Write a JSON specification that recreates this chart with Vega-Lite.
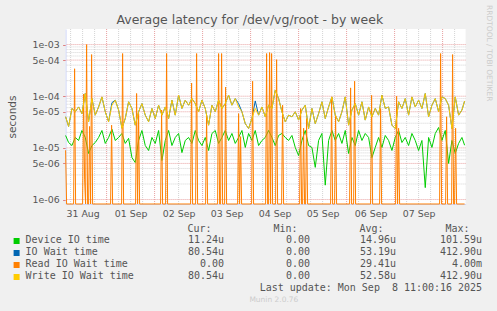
{
  "$schema": "https://vega.github.io/schema/vega-lite/v6.json",
  "background": "#F0F0F0",
  "padding": {"left": 6.6, "top": 5, "right": 10, "bottom": 10},
  "title": {"text": "Average latency for /dev/vg/root - by week", "anchor": "middle", "fontSize": 12.5, "font": "DejaVu Sans", "fontWeight": "normal", "color": "#555555", "offset": -21.6},
  "bounds": "flush",
  "spacing": 30.5,
  "datasets": {
    "vminor": [
      {"t": "2025-08-31T06:00"}, {"t": "2025-08-31T12:00"}, {"t": "2025-08-31T18:00"},
      {"t": "2025-09-01T06:00"}, {"t": "2025-09-01T12:00"}, {"t": "2025-09-01T18:00"},
      {"t": "2025-09-02T06:00"}, {"t": "2025-09-02T12:00"}, {"t": "2025-09-02T18:00"},
      {"t": "2025-09-03T06:00"}, {"t": "2025-09-03T12:00"}, {"t": "2025-09-03T18:00"},
      {"t": "2025-09-04T06:00"}, {"t": "2025-09-04T12:00"}, {"t": "2025-09-04T18:00"},
      {"t": "2025-09-05T06:00"}, {"t": "2025-09-05T12:00"}, {"t": "2025-09-05T18:00"},
      {"t": "2025-09-06T06:00"}, {"t": "2025-09-06T12:00"}, {"t": "2025-09-06T18:00"},
      {"t": "2025-09-07T06:00"}, {"t": "2025-09-07T12:00"}, {"t": "2025-09-07T18:00"},
      {"t": "2025-09-08T06:00"}
    ],
    "vmajor": [
      {"t": "2025-09-01T00:00"}, {"t": "2025-09-02T00:00"}, {"t": "2025-09-03T00:00"}, {"t": "2025-09-04T00:00"},
      {"t": "2025-09-05T00:00"}, {"t": "2025-09-06T00:00"}, {"t": "2025-09-07T00:00"}, {"t": "2025-09-08T00:00"}
    ],
    "hminor": [
      {"v": 0.000002}, {"v": 0.000003}, {"v": 0.000004}, {"v": 0.000006}, {"v": 0.000007}, {"v": 0.000008}, {"v": 0.000009},
      {"v": 0.00002}, {"v": 0.00003}, {"v": 0.00004}, {"v": 0.00006}, {"v": 0.00007}, {"v": 0.00008}, {"v": 0.00009},
      {"v": 0.0002}, {"v": 0.0003}, {"v": 0.0004}, {"v": 0.0006}, {"v": 0.0007}, {"v": 0.0008}, {"v": 0.0009}
    ],
    "hmajor": [
      {"v": 0.000001}, {"v": 0.000005}, {"v": 0.00001}, {"v": 0.00005}, {"v": 0.0001}, {"v": 0.0005}, {"v": 0.001}
    ],
    "main": [
      {"t": "2025-08-31T03:30", "dev": 1.74e-5, "io": 4.0e-5, "wr": 4.0e-5},
      {"t": "2025-08-31T05:00", "dev": 1.27e-5, "io": 2.6e-5, "wr": 2.6e-5},
      {"t": "2025-08-31T06:40", "dev": 1.11e-5, "io": 5.8e-5, "wr": 5.8e-5},
      {"t": "2025-08-31T08:20", "dev": 1.59e-5, "io": 5.0e-5, "wr": 5.0e-5},
      {"t": "2025-08-31T10:00", "dev": 1.39e-5, "io": 6.2e-5, "wr": 6.2e-5},
      {"t": "2025-08-31T11:40", "dev": 2.17e-5, "io": 4.6e-5, "wr": 4.6e-5},
      {"t": "2025-08-31T13:20", "dev": 1.59e-5, "io": 1.13e-4, "wr": 1.13e-4},
      {"t": "2025-08-31T15:00", "dev": 7.8e-6, "io": 3.2e-5, "wr": 3.2e-5},
      {"t": "2025-08-31T16:40", "dev": 1.11e-5, "io": 9.0e-5, "wr": 9.0e-5},
      {"t": "2025-08-31T18:20", "dev": 1.27e-5, "io": 4.3e-5, "wr": 4.3e-5},
      {"t": "2025-08-31T20:00", "dev": 1.59e-5, "io": 6.2e-5, "wr": 6.2e-5},
      {"t": "2025-08-31T21:40", "dev": 2.17e-5, "io": 9.7e-5, "wr": 9.7e-5},
      {"t": "2025-08-31T23:20", "dev": 1.22e-5, "io": 5.0e-5, "wr": 5.0e-5},
      {"t": "2025-09-01T01:00", "dev": 1.59e-5, "io": 3.2e-5, "wr": 3.2e-5},
      {"t": "2025-09-01T02:40", "dev": 2.3e-5, "io": 7.5e-5, "wr": 6.7e-5},
      {"t": "2025-09-01T04:20", "dev": 1.39e-5, "io": 8.4e-5, "wr": 8.4e-5},
      {"t": "2025-09-01T06:00", "dev": 1.59e-5, "io": 5.4e-5, "wr": 5.4e-5},
      {"t": "2025-09-01T07:40", "dev": 1.9e-5, "io": 2.4e-5, "wr": 2.4e-5},
      {"t": "2025-09-01T09:20", "dev": 1.22e-5, "io": 3.7e-5, "wr": 3.7e-5},
      {"t": "2025-09-01T11:00", "dev": 1.53e-5, "io": 7.8e-5, "wr": 7.8e-5},
      {"t": "2025-09-01T12:40", "dev": 6.5e-6, "io": 5.8e-5, "wr": 5.8e-5},
      {"t": "2025-09-01T14:20", "dev": 5.2e-6, "io": 2.75e-5, "wr": 2.75e-5},
      {"t": "2025-09-01T16:00", "dev": 1.39e-5, "io": 5.0e-5, "wr": 5.0e-5},
      {"t": "2025-09-01T17:40", "dev": 2.17e-5, "io": 7.2e-5, "wr": 7.2e-5},
      {"t": "2025-09-01T19:20", "dev": 1.11e-5, "io": 4.3e-5, "wr": 4.3e-5},
      {"t": "2025-09-01T21:00", "dev": 8.9e-6, "io": 3.2e-5, "wr": 3.2e-5},
      {"t": "2025-09-01T22:40", "dev": 1.59e-5, "io": 5.8e-5, "wr": 5.8e-5},
      {"t": "2025-09-02T00:20", "dev": 1.22e-5, "io": 3.7e-5, "wr": 3.7e-5},
      {"t": "2025-09-02T02:00", "dev": 2.17e-5, "io": 6.7e-5, "wr": 6.7e-5},
      {"t": "2025-09-02T03:40", "dev": 5.7e-6, "io": 4.3e-5, "wr": 4.3e-5},
      {"t": "2025-09-02T05:20", "dev": 1.39e-5, "io": 6.2e-5, "wr": 6.2e-5},
      {"t": "2025-09-02T07:00", "dev": 2.17e-5, "io": 3.7e-5, "wr": 3.7e-5},
      {"t": "2025-09-02T08:40", "dev": 1.11e-5, "io": 8.4e-5, "wr": 8.4e-5},
      {"t": "2025-09-02T10:20", "dev": 1.59e-5, "io": 4.3e-5, "wr": 4.3e-5},
      {"t": "2025-09-02T12:00", "dev": 1.9e-5, "io": 1.05e-4, "wr": 1.05e-4},
      {"t": "2025-09-02T13:40", "dev": 8.1e-6, "io": 5.8e-5, "wr": 5.8e-5},
      {"t": "2025-09-02T15:20", "dev": 1.39e-5, "io": 8.4e-5, "wr": 8.4e-5},
      {"t": "2025-09-02T17:00", "dev": 1.59e-5, "io": 6.7e-5, "wr": 6.7e-5},
      {"t": "2025-09-02T18:40", "dev": 1.22e-5, "io": 9.0e-5, "wr": 9.0e-5},
      {"t": "2025-09-02T20:20", "dev": 2.17e-5, "io": 7.2e-5, "wr": 7.2e-5},
      {"t": "2025-09-02T22:00", "dev": 1.39e-5, "io": 5.0e-5, "wr": 5.0e-5},
      {"t": "2025-09-02T23:40", "dev": 1.11e-5, "io": 8.4e-5, "wr": 8.4e-5},
      {"t": "2025-09-03T01:20", "dev": 1.59e-5, "io": 5.8e-5, "wr": 5.8e-5},
      {"t": "2025-09-03T03:00", "dev": 8.9e-6, "io": 2.75e-5, "wr": 2.75e-5},
      {"t": "2025-09-03T04:40", "dev": 1.9e-5, "io": 6.7e-5, "wr": 6.7e-5},
      {"t": "2025-09-03T06:20", "dev": 2.17e-5, "io": 5.0e-5, "wr": 5.0e-5},
      {"t": "2025-09-03T08:00", "dev": 1.22e-5, "io": 8.4e-5, "wr": 8.4e-5},
      {"t": "2025-09-03T09:40", "dev": 1.59e-5, "io": 5.8e-5, "wr": 5.8e-5},
      {"t": "2025-09-03T11:20", "dev": 2.17e-5, "io": 7.2e-5, "wr": 7.2e-5},
      {"t": "2025-09-03T13:00", "dev": 1.39e-5, "io": 1.05e-4, "wr": 1.05e-4},
      {"t": "2025-09-03T14:40", "dev": 1.9e-5, "io": 6.7e-5, "wr": 6.7e-5},
      {"t": "2025-09-03T16:20", "dev": 1.22e-5, "io": 9.0e-5, "wr": 9.0e-5},
      {"t": "2025-09-03T18:00", "dev": 1.59e-5, "io": 7.2e-5, "wr": 6.2e-5},
      {"t": "2025-09-03T19:40", "dev": 2.17e-5, "io": 5.0e-5, "wr": 5.0e-5},
      {"t": "2025-09-03T21:20", "dev": 1.02e-5, "io": 2.95e-5, "wr": 2.95e-5},
      {"t": "2025-09-03T23:00", "dev": 1.9e-5, "io": 2.37e-5, "wr": 2.37e-5},
      {"t": "2025-09-04T00:40", "dev": 1.39e-5, "io": 3.7e-5, "wr": 3.7e-5},
      {"t": "2025-09-04T02:20", "dev": 2.17e-5, "io": 8.1e-5, "wr": 5.8e-5},
      {"t": "2025-09-04T04:00", "dev": 1.11e-5, "io": 4.3e-5, "wr": 4.3e-5},
      {"t": "2025-09-04T05:40", "dev": 1.39e-5, "io": 6.2e-5, "wr": 6.2e-5},
      {"t": "2025-09-04T07:20", "dev": 1.59e-5, "io": 4.0e-5, "wr": 4.0e-5},
      {"t": "2025-09-04T09:00", "dev": 2.17e-5, "io": 6.7e-5, "wr": 6.7e-5},
      {"t": "2025-09-04T10:40", "dev": 1.59e-5, "io": 5.8e-5, "wr": 5.8e-5},
      {"t": "2025-09-04T12:20", "dev": 1.11e-5, "io": 1.31e-4, "wr": 1.31e-4},
      {"t": "2025-09-04T14:00", "dev": 1.74e-5, "io": 9.0e-5, "wr": 9.0e-5},
      {"t": "2025-09-04T15:40", "dev": 1.9e-5, "io": 5.0e-5, "wr": 5.0e-5},
      {"t": "2025-09-04T17:20", "dev": 1.59e-5, "io": 3.2e-5, "wr": 3.2e-5},
      {"t": "2025-09-04T19:00", "dev": 1.39e-5, "io": 4.3e-5, "wr": 4.3e-5},
      {"t": "2025-09-04T20:40", "dev": 1.74e-5, "io": 4.0e-5, "wr": 4.0e-5},
      {"t": "2025-09-04T22:20", "dev": 1.02e-5, "io": 5.0e-5, "wr": 5.0e-5},
      {"t": "2025-09-05T00:00", "dev": 7.1e-6, "io": 3.45e-5, "wr": 3.45e-5},
      {"t": "2025-09-05T01:40", "dev": 1.39e-5, "io": 5.4e-5, "wr": 5.4e-5},
      {"t": "2025-09-05T03:20", "dev": 2.17e-5, "io": 6.7e-5, "wr": 6.7e-5},
      {"t": "2025-09-05T05:00", "dev": 1.11e-5, "io": 2.37e-5, "wr": 2.37e-5},
      {"t": "2025-09-05T06:40", "dev": 1.02e-5, "io": 5.8e-5, "wr": 5.8e-5},
      {"t": "2025-09-05T08:20", "dev": 4.2e-6, "io": 2.95e-5, "wr": 2.95e-5},
      {"t": "2025-09-05T10:00", "dev": 1.39e-5, "io": 4.6e-5, "wr": 4.6e-5},
      {"t": "2025-09-05T11:40", "dev": 1.9e-5, "io": 7.8e-5, "wr": 7.8e-5},
      {"t": "2025-09-05T13:20", "dev": 1.9e-6, "io": 3.7e-5, "wr": 3.7e-5},
      {"t": "2025-09-05T15:00", "dev": 1.39e-5, "io": 6.2e-5, "wr": 6.2e-5},
      {"t": "2025-09-05T16:40", "dev": 2.17e-5, "io": 9.7e-5, "wr": 9.7e-5},
      {"t": "2025-09-05T18:20", "dev": 1.39e-5, "io": 4.3e-5, "wr": 4.3e-5},
      {"t": "2025-09-05T20:00", "dev": 1.9e-5, "io": 3.2e-5, "wr": 3.2e-5},
      {"t": "2025-09-05T21:40", "dev": 1.22e-5, "io": 5.0e-5, "wr": 5.0e-5},
      {"t": "2025-09-05T23:20", "dev": 2.17e-5, "io": 9.7e-5, "wr": 9.7e-5},
      {"t": "2025-09-06T01:00", "dev": 7.8e-6, "io": 2.75e-5, "wr": 2.75e-5},
      {"t": "2025-09-06T02:40", "dev": 1.59e-5, "io": 5.4e-5, "wr": 5.4e-5},
      {"t": "2025-09-06T04:20", "dev": 1.11e-5, "io": 7.2e-5, "wr": 7.2e-5},
      {"t": "2025-09-06T06:00", "dev": 2.17e-5, "io": 4.3e-5, "wr": 4.3e-5},
      {"t": "2025-09-06T07:40", "dev": 1.39e-5, "io": 7.8e-5, "wr": 7.8e-5},
      {"t": "2025-09-06T09:20", "dev": 1.9e-5, "io": 3.45e-5, "wr": 3.45e-5},
      {"t": "2025-09-06T11:00", "dev": 1.59e-5, "io": 6.2e-5, "wr": 6.2e-5},
      {"t": "2025-09-06T12:40", "dev": 6.5e-6, "io": 4.0e-5, "wr": 4.0e-5},
      {"t": "2025-09-06T14:20", "dev": 1.02e-5, "io": 5.8e-5, "wr": 5.8e-5},
      {"t": "2025-09-06T16:00", "dev": 1.59e-5, "io": 4.3e-5, "wr": 4.3e-5},
      {"t": "2025-09-06T17:40", "dev": 1.02e-5, "io": 1.05e-4, "wr": 1.05e-4},
      {"t": "2025-09-06T19:20", "dev": 1.74e-5, "io": 5.8e-5, "wr": 5.8e-5},
      {"t": "2025-09-06T21:00", "dev": 1.39e-5, "io": 6.2e-5, "wr": 6.2e-5},
      {"t": "2025-09-06T22:40", "dev": 8.9e-6, "io": 2.75e-5, "wr": 2.75e-5},
      {"t": "2025-09-07T00:20", "dev": 1.59e-5, "io": 2.37e-5, "wr": 2.37e-5},
      {"t": "2025-09-07T02:00", "dev": 2.17e-5, "io": 7.8e-5, "wr": 7.8e-5},
      {"t": "2025-09-07T03:40", "dev": 1.27e-5, "io": 5.8e-5, "wr": 5.8e-5},
      {"t": "2025-09-07T05:20", "dev": 1.59e-5, "io": 9.0e-5, "wr": 9.0e-5},
      {"t": "2025-09-07T07:00", "dev": 1.11e-5, "io": 4.3e-5, "wr": 4.3e-5},
      {"t": "2025-09-07T08:40", "dev": 1.9e-5, "io": 9.7e-5, "wr": 9.7e-5},
      {"t": "2025-09-07T10:20", "dev": 1.39e-5, "io": 6.2e-5, "wr": 6.2e-5},
      {"t": "2025-09-07T12:00", "dev": 8.9e-6, "io": 8.4e-5, "wr": 8.4e-5},
      {"t": "2025-09-07T13:40", "dev": 1.39e-5, "io": 5.8e-5, "wr": 5.8e-5},
      {"t": "2025-09-07T15:20", "dev": 1.7e-6, "io": 1.13e-4, "wr": 1.13e-4},
      {"t": "2025-09-07T17:00", "dev": 1.59e-5, "io": 4.0e-5, "wr": 4.0e-5},
      {"t": "2025-09-07T18:40", "dev": 1.02e-5, "io": 6.7e-5, "wr": 6.7e-5},
      {"t": "2025-09-07T20:20", "dev": 1.9e-5, "io": 9.0e-5, "wr": 9.0e-5},
      {"t": "2025-09-07T22:00", "dev": 2.48e-5, "io": 5.0e-5, "wr": 5.0e-5},
      {"t": "2025-09-07T23:40", "dev": 1.39e-5, "io": 9.7e-5, "wr": 9.7e-5},
      {"t": "2025-09-08T01:20", "dev": 2.17e-5, "io": 9.0e-5, "wr": 9.0e-5},
      {"t": "2025-09-08T03:00", "dev": 5.0e-6, "io": 6.7e-5, "wr": 6.7e-5},
      {"t": "2025-09-08T04:40", "dev": 1.39e-5, "io": 2.37e-5, "wr": 2.37e-5},
      {"t": "2025-09-08T06:20", "dev": 7.8e-6, "io": 9.7e-5, "wr": 9.7e-5},
      {"t": "2025-09-08T08:00", "dev": 1.22e-5, "io": 4.3e-5, "wr": 4.3e-5},
      {"t": "2025-09-08T09:40", "dev": 1.59e-5, "io": 5.4e-5, "wr": 5.4e-5},
      {"t": "2025-09-08T11:00", "dev": 1.124e-5, "io": 8.054e-5, "wr": 8.054e-5}
    ],
    "read": [
      {"t": "2025-08-31T03:30", "rd": 9e-6},
      {"t": "2025-08-31T04:00", "rd": 0},
      {"t": "2025-08-31T07:30", "rd": 0},
      {"t": "2025-08-31T08:00", "rd": 3.4e-4},
      {"t": "2025-08-31T08:30", "rd": 0},
      {"t": "2025-08-31T12:00", "rd": 0},
      {"t": "2025-08-31T12:30", "rd": 1.1e-4},
      {"t": "2025-08-31T13:00", "rd": 2.4e-6},
      {"t": "2025-08-31T13:30", "rd": 0},
      {"t": "2025-08-31T14:00", "rd": 1.0e-3},
      {"t": "2025-08-31T14:30", "rd": 0},
      {"t": "2025-08-31T15:00", "rd": 0},
      {"t": "2025-08-31T15:30", "rd": 2.6e-5},
      {"t": "2025-08-31T16:00", "rd": 0},
      {"t": "2025-08-31T16:30", "rd": 6.4e-4},
      {"t": "2025-08-31T17:00", "rd": 0},
      {"t": "2025-09-01T02:00", "rd": 0},
      {"t": "2025-09-01T02:30", "rd": 2.75e-5},
      {"t": "2025-09-01T03:00", "rd": 0},
      {"t": "2025-09-01T07:30", "rd": 0},
      {"t": "2025-09-01T08:00", "rd": 6.7e-4},
      {"t": "2025-09-01T08:30", "rd": 0},
      {"t": "2025-09-01T14:30", "rd": 0},
      {"t": "2025-09-01T15:00", "rd": 1.13e-4},
      {"t": "2025-09-01T15:30", "rd": 0},
      {"t": "2025-09-01T16:00", "rd": 4.6e-5},
      {"t": "2025-09-01T16:30", "rd": 0},
      {"t": "2025-09-02T03:00", "rd": 0},
      {"t": "2025-09-02T03:30", "rd": 5.4e-5},
      {"t": "2025-09-02T04:00", "rd": 0},
      {"t": "2025-09-02T05:30", "rd": 0},
      {"t": "2025-09-02T06:00", "rd": 6.7e-4},
      {"t": "2025-09-02T06:30", "rd": 0},
      {"t": "2025-09-02T18:00", "rd": 0},
      {"t": "2025-09-02T18:30", "rd": 1.8e-4},
      {"t": "2025-09-02T19:00", "rd": 0},
      {"t": "2025-09-02T20:30", "rd": 0},
      {"t": "2025-09-02T21:00", "rd": 6.7e-4},
      {"t": "2025-09-02T21:30", "rd": 0},
      {"t": "2025-09-03T01:30", "rd": 0},
      {"t": "2025-09-03T02:00", "rd": 4.3e-5},
      {"t": "2025-09-03T02:30", "rd": 0},
      {"t": "2025-09-03T07:30", "rd": 0},
      {"t": "2025-09-03T08:00", "rd": 6.7e-4},
      {"t": "2025-09-03T08:30", "rd": 0},
      {"t": "2025-09-03T09:00", "rd": 0},
      {"t": "2025-09-03T09:30", "rd": 6.7e-4},
      {"t": "2025-09-03T10:00", "rd": 0},
      {"t": "2025-09-03T11:00", "rd": 0},
      {"t": "2025-09-03T11:30", "rd": 1.5e-4},
      {"t": "2025-09-03T12:00", "rd": 0},
      {"t": "2025-09-03T17:30", "rd": 0},
      {"t": "2025-09-03T18:00", "rd": 4.6e-5},
      {"t": "2025-09-03T18:30", "rd": 0},
      {"t": "2025-09-03T19:00", "rd": 1.65e-5},
      {"t": "2025-09-03T19:30", "rd": 0},
      {"t": "2025-09-04T00:30", "rd": 0},
      {"t": "2025-09-04T01:00", "rd": 1.95e-4},
      {"t": "2025-09-04T01:30", "rd": 0},
      {"t": "2025-09-04T07:30", "rd": 0},
      {"t": "2025-09-04T08:00", "rd": 6.7e-4},
      {"t": "2025-09-04T08:30", "rd": 0},
      {"t": "2025-09-04T09:00", "rd": 0},
      {"t": "2025-09-04T09:30", "rd": 7.0e-4},
      {"t": "2025-09-04T10:00", "rd": 0},
      {"t": "2025-09-04T10:30", "rd": 6.7e-4},
      {"t": "2025-09-04T11:00", "rd": 0},
      {"t": "2025-09-04T12:30", "rd": 0},
      {"t": "2025-09-04T13:00", "rd": 5.1e-4},
      {"t": "2025-09-04T13:30", "rd": 0},
      {"t": "2025-09-04T15:30", "rd": 0},
      {"t": "2025-09-04T16:00", "rd": 6.7e-5},
      {"t": "2025-09-04T16:30", "rd": 0},
      {"t": "2025-09-05T00:30", "rd": 0},
      {"t": "2025-09-05T01:00", "rd": 5.8e-5},
      {"t": "2025-09-05T01:30", "rd": 0},
      {"t": "2025-09-05T02:00", "rd": 0},
      {"t": "2025-09-05T02:30", "rd": 2.4e-5},
      {"t": "2025-09-05T03:00", "rd": 0},
      {"t": "2025-09-05T03:30", "rd": 0},
      {"t": "2025-09-05T04:00", "rd": 3.7e-5},
      {"t": "2025-09-05T04:30", "rd": 0},
      {"t": "2025-09-05T16:00", "rd": 0},
      {"t": "2025-09-05T16:30", "rd": 9.7e-5},
      {"t": "2025-09-05T17:00", "rd": 0},
      {"t": "2025-09-05T18:00", "rd": 0},
      {"t": "2025-09-05T18:30", "rd": 4.3e-5},
      {"t": "2025-09-05T19:00", "rd": 0},
      {"t": "2025-09-06T01:30", "rd": 0},
      {"t": "2025-09-06T02:00", "rd": 1.45e-4},
      {"t": "2025-09-06T02:30", "rd": 0},
      {"t": "2025-09-06T03:30", "rd": 0},
      {"t": "2025-09-06T04:00", "rd": 1.95e-4},
      {"t": "2025-09-06T04:30", "rd": 0},
      {"t": "2025-09-06T12:00", "rd": 0},
      {"t": "2025-09-06T12:30", "rd": 1.04e-4},
      {"t": "2025-09-06T13:00", "rd": 0},
      {"t": "2025-09-06T16:30", "rd": 0},
      {"t": "2025-09-06T17:00", "rd": 5.8e-5},
      {"t": "2025-09-06T17:30", "rd": 0},
      {"t": "2025-09-07T00:30", "rd": 0},
      {"t": "2025-09-07T01:00", "rd": 1.0e-4},
      {"t": "2025-09-07T01:30", "rd": 0},
      {"t": "2025-09-07T02:00", "rd": 2.4e-5},
      {"t": "2025-09-07T02:30", "rd": 0},
      {"t": "2025-09-07T22:30", "rd": 0},
      {"t": "2025-09-07T23:00", "rd": 6.7e-4},
      {"t": "2025-09-07T23:30", "rd": 0},
      {"t": "2025-09-08T01:30", "rd": 0},
      {"t": "2025-09-08T02:00", "rd": 4.0e-5},
      {"t": "2025-09-08T02:30", "rd": 0},
      {"t": "2025-09-08T04:30", "rd": 0},
      {"t": "2025-09-08T05:00", "rd": 6.4e-4},
      {"t": "2025-09-08T05:30", "rd": 0},
      {"t": "2025-09-08T06:00", "rd": 0},
      {"t": "2025-09-08T06:30", "rd": 2.4e-5},
      {"t": "2025-09-08T07:00", "rd": 0},
      {"t": "2025-09-08T11:00", "rd": 0}
    ],
    "legend": [
      {"s": "Device IO time", "c": "Cur", "v": "11.24u"},
      {"s": "Device IO time", "c": "Min", "v": "0.00\u00a0"},
      {"s": "Device IO time", "c": "Avg", "v": "14.96u"},
      {"s": "Device IO time", "c": "Max", "v": "101.59u"},
      {"s": "IO Wait time", "c": "Cur", "v": "80.54u"},
      {"s": "IO Wait time", "c": "Min", "v": "0.00\u00a0"},
      {"s": "IO Wait time", "c": "Avg", "v": "53.19u"},
      {"s": "IO Wait time", "c": "Max", "v": "412.90u"},
      {"s": "Read IO Wait time", "c": "Cur", "v": "0.00\u00a0"},
      {"s": "Read IO Wait time", "c": "Min", "v": "0.00\u00a0"},
      {"s": "Read IO Wait time", "c": "Avg", "v": "29.41u"},
      {"s": "Read IO Wait time", "c": "Max", "v": "4.00m"},
      {"s": "Write IO Wait time", "c": "Cur", "v": "80.54u"},
      {"s": "Write IO Wait time", "c": "Min", "v": "0.00\u00a0"},
      {"s": "Write IO Wait time", "c": "Avg", "v": "52.58u"},
      {"s": "Write IO Wait time", "c": "Max", "v": "412.90u"},
      {"s": "", "c": "Max", "v": "Last update: Mon Sep \u00a08 11:00:16 2025"}
    ]
  },
  "vconcat": [
    {
      "width": 400,
      "height": 175,
      "view": {"fill": "#FFFFFF", "stroke": null},
      "title": {"text": "RRDTOOL / TOBI OETIKER", "orient": "right", "anchor": "start", "fontSize": 7.5, "font": "DejaVu Sans", "fontWeight": "normal", "color": "#CCCCCC", "offset": 18.5, "dx": -23.5},
      "layer": [
        {
          "data": {"name": "vminor"},
          "mark": {"type": "rule", "color": "#D4D4D4", "strokeWidth": 1, "strokeDash": [1, 1]},
          "encoding": {
            "x": {"field": "t", "type": "temporal",
              "scale": {"domain": [{"year": 2025, "month": 8, "date": 31, "hours": 3, "minutes": 30}, {"year": 2025, "month": 9, "date": 8, "hours": 11, "minutes": 30}]},
              "axis": {"title": null, "grid": false, "ticks": false, "format": "%d %b", "labelFontSize": 9.4, "labelPadding": 6, "labelFlush": false, "labelOverlap": false, "labelAngle": 0,
                "values": [
                  {"year": 2025, "month": 8, "date": 31, "hours": 12},
                  {"year": 2025, "month": 9, "date": 1, "hours": 12},
                  {"year": 2025, "month": 9, "date": 2, "hours": 12},
                  {"year": 2025, "month": 9, "date": 3, "hours": 12},
                  {"year": 2025, "month": 9, "date": 4, "hours": 12},
                  {"year": 2025, "month": 9, "date": 5, "hours": 12},
                  {"year": 2025, "month": 9, "date": 6, "hours": 12},
                  {"year": 2025, "month": 9, "date": 7, "hours": 12}]}}
          }
        },
        {
          "data": {"name": "vmajor"},
          "mark": {"type": "rule", "color": "#E8A0A0", "strokeWidth": 1, "strokeDash": [1, 1]},
          "encoding": {
            "x": {"field": "t", "type": "temporal", "scale": {"domain": [{"year": 2025, "month": 8, "date": 31, "hours": 3, "minutes": 30}, {"year": 2025, "month": 9, "date": 8, "hours": 11, "minutes": 30}]}}
          }
        },
        {
          "data": {"name": "hminor"},
          "mark": {"type": "rule", "color": "#D4D4D4", "strokeWidth": 1, "strokeDash": [1, 1]},
          "encoding": {
            "y": {"field": "v", "type": "quantitative",
              "scale": {"type": "log", "domain": [8.2e-7, 0.002], "clamp": true, "nice": false},
              "axis": {"title": "seconds", "titleFontSize": 10.5, "titlePadding": 15, "grid": false,
                "values": [0.000001, 0.000005, 0.00001, 0.00005, 0.0001, 0.0005, 0.001],
                "labelExpr": "datum.value == 0.001 ? '1e-03' : datum.value == 0.0005 ? '5e-04' : datum.value == 0.0001 ? '1e-04' : datum.value == 0.00005 ? '5e-05' : datum.value == 0.00001 ? '1e-05' : datum.value == 0.000005 ? '5e-06' : '1e-06'",
                "labelFontSize": 9.4, "labelPadding": 3.5, "tickSize": 3, "tickColor": "#E08080", "labelFlush": false, "labelOverlap": false}}
          }
        },
        {
          "data": {"name": "hmajor"},
          "mark": {"type": "rule", "color": "#E8A0A0", "strokeWidth": 1, "strokeDash": [1, 1]},
          "encoding": {
            "y": {"field": "v", "type": "quantitative", "scale": {"type": "log", "domain": [8.2e-7, 0.002], "clamp": true, "nice": false}}
          }
        },
        {
          "data": {"name": "main"},
          "mark": {"type": "line", "color": "#00CC00", "strokeWidth": 1},
          "encoding": {
            "x": {"field": "t", "type": "temporal", "scale": {"domain": [{"year": 2025, "month": 8, "date": 31, "hours": 3, "minutes": 30}, {"year": 2025, "month": 9, "date": 8, "hours": 11, "minutes": 30}]}},
            "y": {"field": "dev", "type": "quantitative", "scale": {"type": "log", "domain": [8.2e-7, 0.002], "clamp": true, "nice": false}}
          }
        },
        {
          "data": {"name": "main"},
          "mark": {"type": "line", "color": "#0066B3", "strokeWidth": 1},
          "encoding": {
            "x": {"field": "t", "type": "temporal", "scale": {"domain": [{"year": 2025, "month": 8, "date": 31, "hours": 3, "minutes": 30}, {"year": 2025, "month": 9, "date": 8, "hours": 11, "minutes": 30}]}},
            "y": {"field": "io", "type": "quantitative", "scale": {"type": "log", "domain": [8.2e-7, 0.002], "clamp": true, "nice": false}}
          }
        },
        {
          "data": {"name": "read"},
          "mark": {"type": "line", "color": "#FF8000", "strokeWidth": 1, "invalid": "show"},
          "encoding": {
            "x": {"field": "t", "type": "temporal", "scale": {"domain": [{"year": 2025, "month": 8, "date": 31, "hours": 3, "minutes": 30}, {"year": 2025, "month": 9, "date": 8, "hours": 11, "minutes": 30}]}},
            "y": {"field": "rd", "type": "quantitative", "scale": {"type": "log", "domain": [8.2e-7, 0.002], "clamp": true, "nice": false}}
          }
        },
        {
          "data": {"name": "main"},
          "mark": {"type": "line", "color": "#FFCC00", "strokeWidth": 1},
          "encoding": {
            "x": {"field": "t", "type": "temporal", "scale": {"domain": [{"year": 2025, "month": 8, "date": 31, "hours": 3, "minutes": 30}, {"year": 2025, "month": 9, "date": 8, "hours": 11, "minutes": 30}]}},
            "y": {"field": "wr", "type": "quantitative", "scale": {"type": "log", "domain": [8.2e-7, 0.002], "clamp": true, "nice": false}}
          }
        }
      ]
    },
    {
      "width": 416.5,
      "height": 60,
      "view": {"stroke": null},
      "title": {"text": "Munin 2.0.76", "orient": "bottom", "anchor": "middle", "fontSize": 7.5, "font": "DejaVu Sans", "fontWeight": "normal", "color": "#CCCCCC", "offset": 2},
      "data": {"name": "legend"},
      "mark": {"type": "text", "font": "DejaVu Sans Mono", "fontSize": 10, "align": "right", "baseline": "middle", "color": "#555555"},
      "encoding": {
        "x": {"field": "c", "type": "nominal", "bandPosition": 1,
          "scale": {"type": "band", "domain": ["Cur", "Min", "Avg", "Max"], "paddingInner": 0, "paddingOuter": 0.4215, "align": 1},
          "axis": {"orient": "top", "title": null, "ticks": false, "tickSize": 0, "domain": false, "grid": false, "labelPadding": 6, "labelBaseline": "middle", "labelAlign": "right", "labelOffset": 30.5, "labelExpr": "datum.value + ':'", "labelFont": "DejaVu Sans Mono", "labelFontSize": 10, "labelAngle": 0}},
        "y": {"field": "s", "type": "nominal",
          "scale": {"type": "band", "domain": ["Device IO time", "IO Wait time", "Read IO Wait time", "Write IO Wait time", ""], "paddingInner": 0, "paddingOuter": 0},
          "axis": {"title": null, "orient": "left", "offset": 46.5, "domain": false, "grid": false, "tickSize": 6, "tickWidth": 6,
            "tickColor": {"condition": [
              {"test": "datum.value == 'Device IO time'", "value": "#00CC00"},
              {"test": "datum.value == 'IO Wait time'", "value": "#0066B3"},
              {"test": "datum.value == 'Read IO Wait time'", "value": "#FF8000"},
              {"test": "datum.value == 'Write IO Wait time'", "value": "#FFCC00"}], "value": "transparent"},
            "labelAlign": "left", "labelPadding": -12, "labelFont": "DejaVu Sans Mono", "labelFontSize": 10, "labelBaseline": "middle", "labelLimit": 0}},
        "text": {"field": "v"}
      }
    }
  ],
  "config": {
    "view": {"stroke": null},
    "axis": {"labelFont": "DejaVu Sans", "labelColor": "#555555", "titleFont": "DejaVu Sans", "titleColor": "#555555", "titleFontWeight": "normal", "domainColor": "#CFD6F8"}
  }
}
